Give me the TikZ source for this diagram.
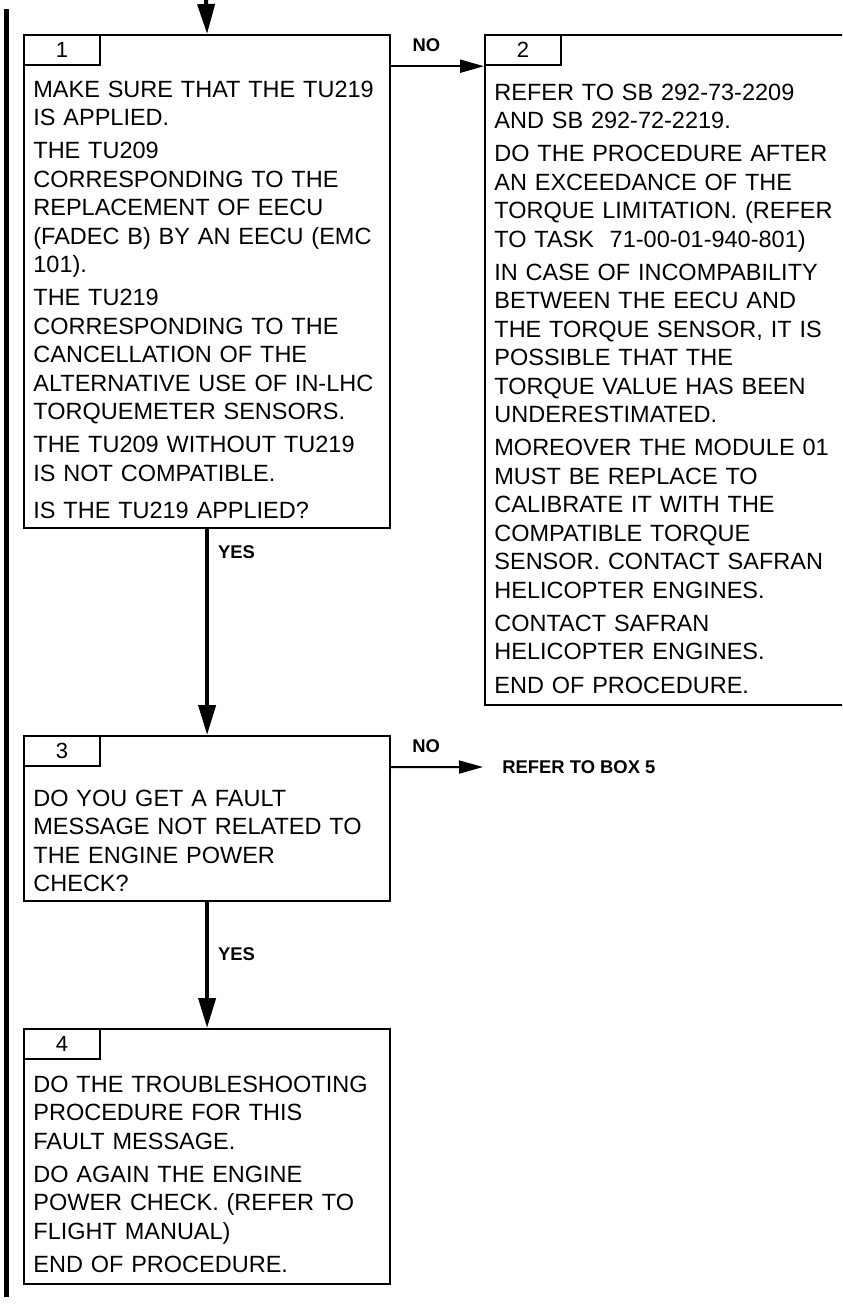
\documentclass[tikz,border=0pt]{standalone}
\usepackage{fontspec}
\setmainfont{Liberation Sans}
\usetikzlibrary{arrows.meta, positioning}
\definecolor{lineblack}{RGB}{0, 0, 0}

\begin{document}
\begin{tikzpicture}[x=0.5pt, y=-0.5pt,
  box/.style={draw=lineblack, line width=1.1pt, rectangle, inner sep=0pt, minimum width=183pt, anchor=north west},
  tab/.style={draw=lineblack, line width=1.1pt, inner sep=0pt, minimum width=38pt, minimum height=15pt, anchor=north west, font=\fontsize{11}{13}\selectfont},
  txt/.style={anchor=base west, inner sep=0pt, text width=180pt, align=left, font=\fontsize{11.75}{14.25}\selectfont},
  lbl/.style={inner sep=1pt, font=\bfseries\fontsize{9.2}{11}\selectfont},
  flow/.style={draw=lineblack, line width=2pt, -{Triangle[length=15pt, width=8.5pt]}},
  flowno/.style={draw=lineblack, line width=1pt, -{Triangle[length=12pt, width=6.5pt]}}]
  \useasboundingbox (0,0) rectangle (842,1307);
  \clip (0,0) rectangle (842,1307);

  % change bar
  \draw[lineblack, line width=2.6pt] (6.5,9) -- (6.5,1297);

  % boxes
  \node[box, minimum height=246.5pt] (b1) at (23,34) {};
  \node[box, minimum width=188pt, minimum height=335pt] (b2) at (484,34) {};
  \node[box, minimum height=82.5pt] (b3) at (23,735) {};
  \node[box, minimum height=127.5pt] (b4) at (23,1028) {};

  \node[tab] (b1n) at (b1.north west) {1};
  \node[tab] (b2n) at (b2.north west) {2};
  \node[tab] (b3n) at (b3.north west) {3};
  \node[tab] (b4n) at (b4.north west) {4};

  \node[txt] (b1t) at (33,97) {MAKE SURE THAT THE TU219\\IS APPLIED.\\[2.3pt]
    THE TU209\\CORRESPONDING TO THE\\REPLACEMENT OF EECU\\(FADEC B) BY AN EECU (EMC\\101).\\[2.3pt]
    THE TU219\\CORRESPONDING TO THE\\CANCELLATION OF THE\\ALTERNATIVE USE OF IN-LHC\\TORQUEMETER SENSORS.\\[2.3pt]
    THE TU209 WITHOUT TU219\\IS NOT COMPATIBLE.\\[4.3pt]
    IS THE TU219 APPLIED?};
  \node[txt] (b2t) at (494,100) {REFER TO SB 292-73-2209\\AND SB 292-72-2219.\\[2.3pt]
    DO THE PROCEDURE AFTER\\AN EXCEEDANCE OF THE\\TORQUE LIMITATION. (REFER\\TO TASK\ \ 71-00-01-940-801)\\[2.3pt]
    IN CASE OF INCOMPABILITY\\BETWEEN THE EECU AND\\THE TORQUE SENSOR, IT IS\\POSSIBLE THAT THE\\TORQUE VALUE HAS BEEN\\UNDERESTIMATED.\\[2.3pt]
    MOREOVER THE MODULE 01\\MUST BE REPLACE TO\\CALIBRATE IT WITH THE\\COMPATIBLE TORQUE\\SENSOR. CONTACT SAFRAN\\HELICOPTER ENGINES.\\[2.3pt]
    CONTACT SAFRAN\\HELICOPTER ENGINES.\\[2.3pt]
    END OF PROCEDURE.};
  \node[txt] (b3t) at (33,806) {DO YOU GET A FAULT\\MESSAGE NOT RELATED TO\\THE ENGINE POWER\\CHECK?};
  \node[txt] (b4t) at (33,1092) {DO THE TROUBLESHOOTING\\PROCEDURE FOR THIS\\FAULT MESSAGE.\\[2.3pt]
    DO AGAIN THE ENGINE\\POWER CHECK. (REFER TO\\FLIGHT MANUAL)\\[2.3pt]
    END OF PROCEDURE.};

  \node[lbl, anchor=west] (r5) at (500,767) {REFER TO BOX 5};

  % connectors
  \coordinate (entry) at (206,0);
  \draw[flow] (entry) -- (b1.north);
  \draw[flow] (b1.south) -- node[lbl, pos=0.11, anchor=west, xshift=3.5pt] {YES} (b3.north);
  \draw[flow] (b3.south) -- node[lbl, pos=0.41, anchor=west, xshift=3.5pt] {YES} (b4.north);
  \draw[flowno] (b1n.south -| b1.east) -- node[lbl, pos=0.38, above=5.75pt] {NO} (b2n.south west);
  \draw[flowno] (b3n.south -| b3.east) -- node[lbl, pos=0.38, above=5.75pt] {NO} ([xshift=-8.5pt]r5.west);
\end{tikzpicture}
\end{document}
